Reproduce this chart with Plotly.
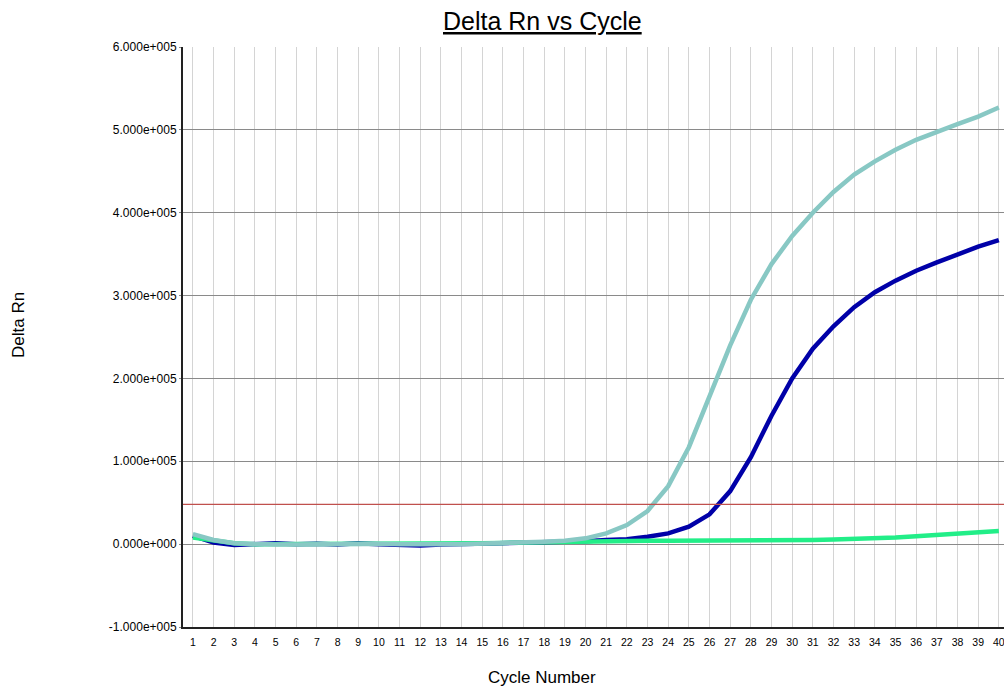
import plotly.graph_objects as go

cycles = list(range(1, 41))

# Delta Rn values
sample_teal = [12000, 5000, 1000, 0, -500, -500, 0, 0, 500, 500,
               0, -500, 0, 0, 500, 1000, 2000, 3000, 4000, 7000,
               13000, 23000, 40000, 70000, 117000, 178000, 240000, 295000, 338000, 372000,
               400000, 425000, 446000, 462000, 476000, 488000, 498000, 507000, 516000, 527000]

sample_blue = [10000, 2000, -1000, 500, 1000, 0, 500, -500, 1000, 0,
               -500, -1500, -500, 0, 0, 1000, 1500, 1500, 2500, 3500,
               5000, 6000, 9000, 13000, 21000, 36000, 64000, 105000, 155000, 200000,
               236000, 263000, 286000, 304000, 318000, 330000, 340000, 350000, 359000, 367000]

sample_green = [8000, 4000, 1000, 0, 0, 0, 500, 0, 0, 500,
                0, 0, 0, 500, 1000, 1500, 2000, 2500, 3000, 3000,
                3500, 3500, 4000, 4000, 4000, 4500, 4500, 4500, 4500, 5000,
                5000, 5500, 6000, 7000, 8000, 9500, 11000, 12500, 14000, 16000]

threshold = 48000

y_tick_vals = [-100000, 0, 100000, 200000, 300000, 400000, 500000, 600000]
y_tick_text = ["-1.000e+005", "0.000e+000", "1.000e+005", "2.000e+005",
               "3.000e+005", "4.000e+005", "5.000e+005", "6.000e+005"]

fig = go.Figure()

fig.add_trace(go.Scatter(x=cycles, y=sample_blue, mode="lines",
                         line=dict(color="#0000a8", width=4.5), showlegend=False))
fig.add_trace(go.Scatter(x=cycles, y=sample_green, mode="lines",
                         line=dict(color="#22ee88", width=4.5), showlegend=False))
fig.add_trace(go.Scatter(x=cycles, y=sample_teal, mode="lines",
                         line=dict(color="#88c8c4", width=4.5), showlegend=False))

fig.add_shape(type="line", xref="paper", x0=0, x1=1, yref="y", y0=threshold, y1=threshold,
              line=dict(color="#c0504d", width=1.2))

font = "Arial, 'Liberation Sans', sans-serif"

PW = 1004 - 183  # plot width in px
PH = 580

fig.update_layout(
    width=1004, height=687,
    margin=dict(l=183, r=0, t=47, b=60),
    paper_bgcolor="white", plot_bgcolor="white",
    font=dict(family=font, size=10, color="black"),
    xaxis=dict(range=[0.52, 40.25], tickmode="array", tickvals=cycles,
               ticktext=[str(c) for c in cycles],
               showgrid=True, gridcolor="#d4d4d4", gridwidth=1,
               zeroline=False, showline=True, linecolor="#222222", linewidth=2,
               ticks="", ticklen=0, tickfont=dict(size=10.5, family=font),
               ticklabeloverflow="allow", ticklabelstandoff=4,
               fixedrange=True),
    yaxis=dict(range=[-100000, 600000], tickmode="array", tickvals=y_tick_vals,
               ticktext=y_tick_text,
               showgrid=True, gridcolor="#8a8a8a", gridwidth=1,
               zeroline=False, showline=True, linecolor="#222222", linewidth=2,
               ticks="outside", ticklen=2, tickcolor="#8a8a8a",
               tickfont=dict(size=12, family=font), fixedrange=True),
    annotations=[
        dict(text="<u>Delta Rn vs Cycle</u>", xref="paper", yref="paper",
             x=(542 - 183) / PW, y=1.0, xanchor="center", yanchor="middle",
             yshift=26, showarrow=False,
             font=dict(size=25, family=font, color="black")),
        dict(text="Cycle Number", xref="paper", yref="paper",
             x=(542 - 183) / PW, y=0, xanchor="center", yanchor="middle",
             yshift=-50, showarrow=False,
             font=dict(size=17, family=font, color="black")),
        dict(text="Delta Rn", xref="paper", yref="paper",
             x=0, xshift=-165, y=(627 - 325) / PH, xanchor="center", yanchor="middle",
             showarrow=False, textangle=-90,
             font=dict(size=17, family=font, color="black")),
    ],
)

fig.write_html(
    "out.html",
    config={"displayModeBar": False},
    post_script="document.body.style.margin='0';document.body.style.overflow='hidden';",
)
